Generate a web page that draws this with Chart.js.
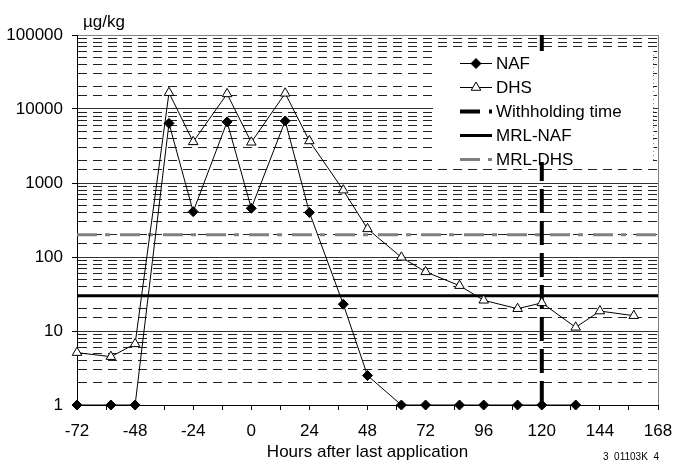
<!DOCTYPE html>
<html>
<head>
<meta charset="utf-8">
<script src="https://cdn.jsdelivr.net/npm/chart.js@4.4.0/dist/chart.umd.min.js"></script>
<style>
  html, body { margin: 0; padding: 0; background: #fff; }
</style>
</head>
<body>
<canvas id="residueChart" width="673" height="461"></canvas>
<script>
// sampling times (hours after last application)
const hours = [-72, -58, -48, -34, -24, -10, 0, 14, 24, 38, 48, 62, 72, 86, 96, 110, 120, 134, 144, 158];
// residues in µg/kg
const nafValues = [1, 1, 1, 6400, 410, 6700, 455, 6900, 400, 23, 2.5, 1, 1, 1, 1, 1, 1, 1];
const dhsValues = [5.1, 4.5, 6.7, 16600, 3600, 16000, 3550, 16300, 3700, 800, 240, 99, 63, 41, 26, 20, 24, 11.2, 18.6, 16.1];
const withholdingHour = 120;
const mrlNaf = 30;
const mrlDhs = 200;
const xTickLabels = [-72, -48, -24, 0, 24, 48, 72, 96, 120, 144, 168];
const yTickLabels = [1, 10, 100, 1000, 10000, 100000];

const FONT = 'Liberation Sans, Arial, sans-serif';

const toPoints = vals => vals.map((v, i) => ({ x: hours[i], y: v }));

// legend box drawn inside the plot area, over the grid
const legendItems = [
  { label: 'NAF', color: '#000', width: 1, dash: [], marker: 'diamond' },
  { label: 'DHS', color: '#000', width: 1, dash: [], marker: 'triangle' },
  { label: 'Withholding time', color: '#000', width: 4, dash: [20, 9] },
  { label: 'MRL-NAF', color: '#000', width: 3, dash: [] },
  { label: 'MRL-DHS', color: '#808080', width: 3, dash: [20, 8] }
];

function drawMarker(ctx, kind, x, y) {
  ctx.save();
  ctx.setLineDash([]);
  ctx.lineWidth = 1;
  ctx.strokeStyle = '#000';
  ctx.beginPath();
  if (kind === 'diamond') {
    ctx.fillStyle = '#000';
    ctx.moveTo(x, y - 5); ctx.lineTo(x + 5, y); ctx.lineTo(x, y + 5); ctx.lineTo(x - 5, y);
  } else {
    ctx.fillStyle = '#fff';
    ctx.moveTo(x, y - 5.5); ctx.lineTo(x + 4.8, y + 2.75); ctx.lineTo(x - 4.8, y + 2.75);
  }
  ctx.closePath();
  ctx.fill();
  ctx.stroke();
  ctx.restore();
}

const legendBox = {
  id: 'legendBox',
  afterDatasetsDraw(chart) {
    const { ctx, chartArea } = chart;
    const w = 220, h = 111;
    const left = chartArea.right - w - 5, top = chartArea.top + 16;
    ctx.save();
    ctx.fillStyle = '#fff';
    ctx.fillRect(left, top, w, h);
    ctx.strokeStyle = '#888';
    ctx.lineWidth = 1;
    ctx.setLineDash([1, 3]);
    ctx.beginPath();
    ctx.moveTo(left + w + 0.5, top);
    ctx.lineTo(left + w + 0.5, top + h);
    ctx.stroke();

    ctx.font = '17px ' + FONT;
    ctx.textBaseline = 'middle';
    ctx.textAlign = 'left';
    legendItems.forEach((item, i) => {
      const y = Math.round(top + 11.5 + i * 24) + 0.5;
      ctx.strokeStyle = item.color;
      ctx.lineWidth = item.width;
      ctx.setLineDash(item.dash);
      ctx.beginPath();
      ctx.moveTo(left + 27, y);
      ctx.lineTo(left + 59, y);
      ctx.stroke();
      if (item.marker) drawMarker(ctx, item.marker, left + 43, y);
      ctx.fillStyle = '#000';
      ctx.fillText(item.label, left + 63, y + 1);
    });
    ctx.restore();
  }
};

// unit label above the y axis and the figure code at the bottom right
const annotations = {
  id: 'annotations',
  afterDraw(chart) {
    const { ctx, chartArea } = chart;
    ctx.save();
    ctx.fillStyle = '#000';
    ctx.textBaseline = 'middle';
    ctx.font = '17px ' + FONT;
    ctx.textAlign = 'left';
    ctx.fillText('µg/kg', chartArea.left + 6, 22);
    ctx.font = '10px ' + FONT;
    ctx.fillText('3  01103K  4', 603, 457);
    ctx.restore();
  }
};

new Chart(document.getElementById('residueChart'), {
  type: 'line',
  data: {
    datasets: [
      {
        label: 'NAF',
        data: toPoints(nafValues),
        borderColor: '#000',
        borderWidth: 1,
        pointStyle: 'rectRot',
        pointRadius: 5,
        pointBackgroundColor: '#000',
        pointBorderColor: '#000',
        pointBorderWidth: 1,
        tension: 0,
        clip: false,
        order: 1
      },
      {
        label: 'DHS',
        data: toPoints(dhsValues),
        borderColor: '#000',
        borderWidth: 1,
        pointStyle: 'triangle',
        pointRadius: 5.5,
        pointBackgroundColor: '#fff',
        pointBorderColor: '#000',
        pointBorderWidth: 1,
        tension: 0,
        clip: false,
        order: 2
      },
      {
        label: 'Withholding time',
        data: [{ x: withholdingHour, y: 1 }, { x: withholdingHour, y: 100000 }],
        borderColor: '#000',
        borderWidth: 4,
        borderDash: [24, 8],
        pointRadius: 0,
        order: 3
      },
      {
        label: 'MRL-NAF',
        data: [{ x: -72, y: mrlNaf }, { x: 168, y: mrlNaf }],
        borderColor: '#000',
        borderWidth: 3,
        pointRadius: 0,
        order: 4
      },
      {
        label: 'MRL-DHS',
        data: [{ x: -72, y: mrlDhs }, { x: 168, y: mrlDhs }],
        borderColor: '#808080',
        borderWidth: 3,
        borderDash: [20, 8, 5, 10],
        pointRadius: 0,
        order: 5
      }
    ]
  },
  options: {
    responsive: false,
    animation: false,
    layout: { padding: { top: 35, right: 15, bottom: 0, left: 0 } },
    plugins: {
      legend: { display: false },
      tooltip: { enabled: false }
    },
    scales: {
      x: {
        type: 'linear',
        min: -72,
        max: 168,
        ticks: {
          stepSize: 12,
          autoSkip: false,
          maxRotation: 0,
          padding: 11,
          color: '#000',
          font: { family: FONT, size: 17 },
          callback: v => xTickLabels.includes(v) ? String(v) : ''
        },
        grid: {
          color: c => (c.tick && c.tick.value === 168) ? '#808080' : 'rgba(0,0,0,0)',
          tickColor: '#000',
          tickLength: 5
        },
        border: { color: '#000', width: 1 },
        title: {
          display: true,
          text: 'Hours after last application',
          color: '#000',
          font: { family: FONT, size: 17, lineHeight: 1 },
          padding: 0
        },
        afterFit: s => {
          s.height = 56;
          s.paddingLeft = 0;
          s.paddingRight = 0;
        }
      },
      y: {
        type: 'logarithmic',
        min: 1,
        max: 100000,
        ticks: {
          autoSkip: false,
          padding: 9,
          color: '#000',
          font: { family: FONT, size: 17 },
          callback: v => yTickLabels.includes(v) ? String(v) : ''
        },
        grid: {
          color: c => {
            if (!c.tick) return '#000';
            if (c.tick.value === 100000) return '#808080';
            return yTickLabels.includes(c.tick.value) ? '#333' : '#222';
          },
          tickColor: c => (c.tick && yTickLabels.includes(c.tick.value)) ? '#000' : 'rgba(0,0,0,0)',
          tickLength: 5
        },
        border: {
          color: '#000',
          width: 1,
          dash: c => (c.tick && !yTickLabels.includes(c.tick.value)) ? [9, 6] : []
        },
        afterFit: s => { s.width = 77; }
      }
    }
  },
  plugins: [legendBox, annotations]
});
</script>
</body>
</html>
